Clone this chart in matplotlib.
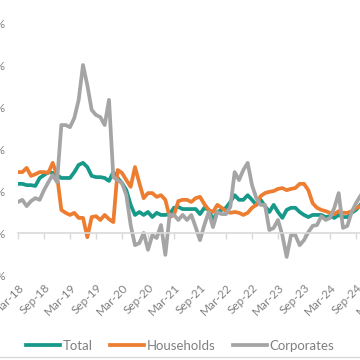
import numpy as np
import pandas as pd
import matplotlib.pyplot as plt
from matplotlib.lines import Line2D

# Monthly growth rates, Mar-18 onwards (visible part of the chart)
months = pd.date_range('2018-03-01', periods=80, freq='MS')

total = [11.7, 11.7, 11.4, 11.4, 11.2, 13.1, 13.8, 14.5, 14.3, 13.8,
         13.1, 13.1, 13.1, 14.5, 16.2, 16.7, 15.7, 13.6, 13.3, 13.3,
         13.1, 12.4, 14.5, 13.1, 11.9, 10.2, 6.7, 4.3, 5.0, 4.3,
         5.0, 3.8, 4.8, 4.3, 4.3, 4.5, 6.0, 6.2, 5.7, 5.7,
         5.7, 5.7, 4.5, 6.0, 5.5, 3.1, 5.0, 5.5, 6.0, 7.4,
         9.0, 7.9, 7.9, 9.0, 7.9, 6.7, 7.9, 6.4, 5.0, 6.7,
         5.0, 3.6, 5.5, 6.0, 6.0, 5.0, 4.3, 3.8, 4.3, 4.3,
         4.3, 3.8, 4.0, 3.6, 4.3, 3.8, 3.8, 4.8, 5.5, 6.7]

households = [14.5, 14.5, 15.5, 13.6, 14.0, 14.5, 14.5, 14.3, 16.7, 13.8,
              5.5, 4.8, 4.3, 4.8, 3.6, 3.6, -1.0, 3.8, 4.0, 3.1,
              4.3, 3.3, 2.6, 15.0, 14.3, 12.6, 11.0, 15.7, 11.9, 8.3,
              9.5, 9.5, 8.6, 9.0, 7.9, 3.8, 4.3, 7.6, 7.9, 7.9,
              7.4, 8.3, 8.6, 6.9, 5.5, 5.0, 6.7, 6.0, 5.2, 4.8,
              5.0, 4.8, 4.3, 4.8, 6.0, 6.7, 8.8, 9.5, 9.8, 10.0,
              10.5, 10.7, 10.2, 10.5, 10.7, 11.7, 11.7, 10.2, 7.1, 6.0,
              5.5, 5.2, 4.8, 4.5, 5.2, 4.8, 4.8, 5.2, 6.0, 6.4]

corporates = [7.4, 7.9, 6.4, 7.6, 8.3, 7.9, 10.2, 12.1, 13.8, 12.1,
              25.7, 25.7, 25.2, 27.4, 31.7, 40.0, 35.2, 29.3, 28.1, 27.6,
              25.7, 31.7, 13.3, 12.6, 11.9, 9.0, 1.9, -2.9, -2.4, 0.0,
              -4.0, -0.5, -1.2, 1.9, -5.2, 4.3, 4.3, 3.1, 4.3, 3.1,
              4.3, 1.4, -1.7, 1.9, 5.0, 1.4, 5.0, 4.5, 4.5, 6.2,
              14.5, 12.6, 15.0, 16.7, 11.4, 8.3, 6.7, 6.7, 0.7, 1.2,
              3.1, -0.5, -5.7, -0.5, -0.5, -2.9, -1.7, 0.2, 1.7, 1.9,
              4.0, 3.1, 3.6, 6.0, 9.5, 1.2, 1.7, 5.0, 7.1, 8.8]

tick_pos = list(range(0, 85, 6))
tick_labels = ['Mar-18', 'Sep-18', 'Mar-19', 'Sep-19', 'Mar-20', 'Sep-20', 'Mar-21',
               'Sep-21', 'Mar-22', 'Sep-22', 'Mar-23', 'Sep-23', 'Mar-24', 'Sep-24', 'Mar-25']

plt.rcParams['font.family'] = ['Lato', 'DejaVu Sans']
text_col = '#808080'

fig = plt.figure(figsize=(3.6, 3.6), dpi=100)
# axes run past the right edge of the picture, like the cropped original
ax = fig.add_axes([18 / 360, 85 / 360, 364 / 360, 252 / 360])

x = np.arange(len(months))
ax.plot(x, total, color='#17998a', lw=2.7, label='Total', solid_joinstyle='round')
ax.plot(x, households, color='#ed7d31', lw=2.7, label='Households', solid_joinstyle='round')
ax.plot(x, corporates, color='#a5a5a5', lw=2.7, label='Corporates', solid_joinstyle='round')

ax.set_xlim(0, 84)
ax.set_ylim(-10, 50)
ax.set_yticks(range(-10, 51, 10))
ax.set_yticklabels([f'{v}%' for v in range(-10, 51, 10)])
ax.tick_params(axis='y', length=0, pad=9, labelsize=8.5, labelcolor=text_col)

for s in ['top', 'right', 'left']:
    ax.spines[s].set_visible(False)
ax.spines['bottom'].set_position(('data', 0))
ax.spines['bottom'].set_color('#d9d9d9')
ax.spines['bottom'].set_linewidth(1.2)
ax.set_xticks(tick_pos)
ax.tick_params(axis='x', length=4, width=1, color='#d9d9d9', labelbottom=False)

sec = ax.secondary_xaxis('bottom')
sec.set_xticks(tick_pos)
sec.set_xticklabels(tick_labels, rotation=45, ha='right', rotation_mode='anchor')
sec.tick_params(length=0, pad=5, labelsize=8.5, labelcolor=text_col)
sec.spines['bottom'].set_visible(False)

fig.legend(loc='lower center', bbox_to_anchor=(0.5, -0.01), ncol=3, frameon=False,
           fontsize=9.5, labelcolor=text_col, handlelength=2.6, handletextpad=0.2,
           columnspacing=1.3)

fig.add_artist(Line2D([0, 1], [0.007, 0.007], transform=fig.transFigure,
                      color='#d9d9d9', lw=1))

fig.savefig('out.png', dpi=100)
